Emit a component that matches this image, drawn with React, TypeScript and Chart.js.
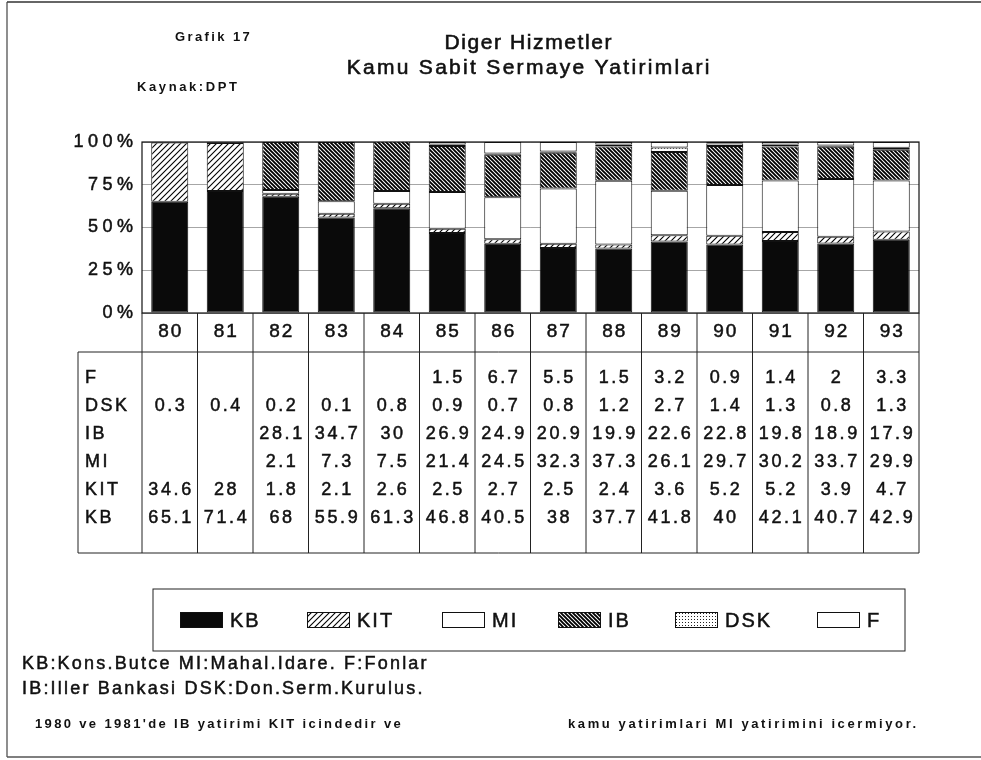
import React, { useEffect, useRef } from 'react';
import { Chart, registerables } from 'chart.js';

Chart.register(...registerables);

// ---- data ----
const YEARS = ['80', '81', '82', '83', '84', '85', '86', '87', '88', '89', '90', '91', '92', '93'];
const KB = [65.1, 71.4, 68, 55.9, 61.3, 46.8, 40.5, 38, 37.7, 41.8, 40, 42.1, 40.7, 42.9];
const KIT = [34.6, 28, 1.8, 2.1, 2.6, 2.5, 2.7, 2.5, 2.4, 3.6, 5.2, 5.2, 3.9, 4.7];
const MI = [null, null, 2.1, 7.3, 7.5, 21.4, 24.5, 32.3, 37.3, 26.1, 29.7, 30.2, 33.7, 29.9];
const IB = [null, null, 28.1, 34.7, 30, 26.9, 24.9, 20.9, 19.9, 22.6, 22.8, 19.8, 18.9, 17.9];
const DSK = [0.3, 0.4, 0.2, 0.1, 0.8, 0.9, 0.7, 0.8, 1.2, 2.7, 1.4, 1.3, 0.8, 1.3];
const F = [null, null, null, null, null, 1.5, 6.7, 5.5, 1.5, 3.2, 0.9, 1.4, 2, 3.3];
const Y_TICKS = [0, 25, 50, 75, 100];

const SERIES_NAMES = ['KB', 'KIT', 'MI', 'IB', 'DSK', 'F'];
const SERIES_DATA: (number | null)[][] = [KB, KIT, MI, IB, DSK, F];
// table rows top -> bottom
const TABLE_ROWS = ['F', 'DSK', 'IB', 'MI', 'KIT', 'KB'];

const TITLE_1 = 'Diger Hizmetler';
const TITLE_2 = 'Kamu Sabit Sermaye Yatirimlari';
const GRAFIK = 'Grafik 17';
const KAYNAK = 'Kaynak:DPT';
const NOTE_1 = 'KB:Kons.Butce MI:Mahal.Idare. F:Fonlar';
const NOTE_2 = 'IB:Iller Bankasi DSK:Don.Serm.Kurulus.';
const NOTE_3A = "1980 ve 1981'de IB yatirimi KIT icindedir ve";
const NOTE_3B = 'kamu yatirimlari MI yatirimini icermiyor.';

const FONT = "'Liberation Sans', Arial, Helvetica, sans-serif";
const INK = '#111';

// ---- fill patterns ----
function makePattern(kind: string): CanvasPattern | string {
  const c = document.createElement('canvas');
  const ctx = c.getContext('2d')!;
  if (kind === 'black') return '#0a0a0a';
  if (kind === 'white') return '#ffffff';
  if (kind === 'slash') {
    const s = 6;
    c.width = s; c.height = s;
    ctx.fillStyle = '#fff'; ctx.fillRect(0, 0, s, s);
    ctx.strokeStyle = '#000'; ctx.lineWidth = 1.1;
    ctx.beginPath();
    ctx.moveTo(-1, s + 1); ctx.lineTo(s + 1, -1);
    ctx.moveTo(-1, 1); ctx.lineTo(1, -1);
    ctx.moveTo(s - 1, s + 1); ctx.lineTo(s + 1, s - 1);
    ctx.stroke();
  } else if (kind === 'back') {
    const s = 4;
    c.width = s; c.height = s;
    ctx.fillStyle = '#fff'; ctx.fillRect(0, 0, s, s);
    ctx.strokeStyle = '#000'; ctx.lineWidth = 1.9;
    ctx.beginPath();
    ctx.moveTo(-1, -1); ctx.lineTo(s + 1, s + 1);
    ctx.moveTo(s - 1, -1); ctx.lineTo(s + 1, 1);
    ctx.moveTo(-1, s - 1); ctx.lineTo(1, s + 1);
    ctx.stroke();
  } else if (kind === 'dots') {
    const s = 3;
    c.width = s; c.height = s;
    ctx.fillStyle = '#fff'; ctx.fillRect(0, 0, s, s);
    ctx.fillStyle = '#222';
    ctx.fillRect(1, 1, 1, 1);
  }
  return ctx.createPattern(c, 'repeat')!;
}

function drawText(
  ctx: CanvasRenderingContext2D,
  s: string,
  x: number,
  y: number,
  size: number,
  align: CanvasTextAlign = 'left',
  spacing = 0,
  bold = false,
  heavy = 0.5
) {
  ctx.save();
  ctx.font = `${bold ? 'bold ' : ''}${size}px ${FONT}`;
  (ctx as any).letterSpacing = `${spacing}px`;
  ctx.textAlign = align;
  ctx.textBaseline = 'middle';
  ctx.fillStyle = INK;
  ctx.strokeStyle = INK;
  ctx.lineWidth = heavy;
  let xx = x;
  if (align === 'center') xx = x + spacing / 2;
  if (align === 'right') xx = x + spacing;
  ctx.fillText(s, xx, y);
  if (heavy > 0) ctx.strokeText(s, xx, y);
  ctx.restore();
}

function line(ctx: CanvasRenderingContext2D, x1: number, y1: number, x2: number, y2: number, w = 1, color = '#111') {
  ctx.save();
  ctx.strokeStyle = color;
  ctx.lineWidth = w;
  ctx.beginPath();
  ctx.moveTo(x1, y1);
  ctx.lineTo(x2, y2);
  ctx.stroke();
  ctx.restore();
}

export default function App() {
  const ref = useRef<HTMLCanvasElement | null>(null);

  useEffect(() => {
    const canvas = ref.current;
    if (!canvas) return;

    const fills = {
      KB: makePattern('black'),
      KIT: makePattern('slash'),
      MI: makePattern('white'),
      IB: makePattern('back'),
      DSK: makePattern('dots'),
      F: makePattern('white'),
    } as Record<string, CanvasPattern | string>;

    const LEGEND_X = [180, 307, 442, 558, 675, 817];

    const overlay = {
      id: 'overlay',
      beforeDraw(chart: any) {
        const ctx = chart.ctx as CanvasRenderingContext2D;
        ctx.save();
        ctx.fillStyle = '#fff';
        ctx.fillRect(0, 0, chart.width, chart.height);
        ctx.restore();
      },
      afterDraw(chart: any) {
        const ctx = chart.ctx as CanvasRenderingContext2D;
        const a = chart.chartArea;
        const xs = chart.scales.x;
        const ys = chart.scales.y;
        const n = YEARS.length;
        const colW = (a.right - a.left) / n;

        // page frame
        line(ctx, 7, 2, chart.width, 2, 1.5, '#333');
        line(ctx, 7, 2, 7, 757, 1.2, '#444');
        line(ctx, 7, 757, chart.width, 757, 1.5, '#555');

        // headings
        drawText(ctx, GRAFIK, 175, 37, 13, 'left', 2.4, true, 0);
        drawText(ctx, KAYNAK, 137, 87, 13, 'left', 2.6, true, 0);
        drawText(ctx, TITLE_1, 528, 43, 21, 'center', 1.6, false, 0.6);
        drawText(ctx, TITLE_2, 528, 68, 21, 'center', 2.3, false, 0.6);

        // plot frame
        ctx.save();
        ctx.strokeStyle = INK;
        ctx.lineWidth = 1.2;
        ctx.strokeRect(a.left, a.top, a.right - a.left, a.bottom - a.top);
        ctx.restore();

        // y tick labels
        Y_TICKS.forEach((v) => {
          drawText(ctx, `${v}%`, a.left - 9, ys.getPixelForValue(v), 18, 'right', 4.5);
        });

        // category header row + table
        const headY = a.bottom + 19;
        const tableTop = a.bottom + 39;
        const tableBottom = a.bottom + 240;
        const tableLeft = 78;
        for (let i = 0; i <= n; i++) {
          const bx = i < n ? xs.getPixelForValue(i) - colW / 2 : xs.getPixelForValue(n - 1) + colW / 2;
          line(ctx, bx, a.bottom, bx, tableBottom, 1, '#222');
        }
        line(ctx, tableLeft, tableTop, a.right, tableTop, 1, '#222');
        line(ctx, tableLeft, tableBottom, a.right, tableBottom, 1, '#222');
        line(ctx, tableLeft, tableTop, tableLeft, tableBottom, 1, '#222');

        YEARS.forEach((lab, i) => {
          drawText(ctx, lab, xs.getPixelForValue(i), headY, 19, 'center', 2);
        });

        TABLE_ROWS.forEach((name, r) => {
          const y = tableTop + 26 + r * 28;
          drawText(ctx, name, 85, y, 18, 'left', 2.5);
          const data = SERIES_DATA[SERIES_NAMES.indexOf(name)];
          data.forEach((v, i) => {
            if (v === null || v === undefined) return;
            drawText(ctx, String(v), xs.getPixelForValue(i), y, 18, 'center', 2.6);
          });
        });

        // legend
        ctx.save();
        ctx.strokeStyle = '#222';
        ctx.lineWidth = 1;
        ctx.strokeRect(153, 589, 752, 62);
        ctx.restore();
        SERIES_NAMES.forEach((name, i) => {
          const lx = LEGEND_X[i];
          ctx.save();
          ctx.fillStyle = fills[name] as any;
          ctx.fillRect(lx, 612, 43, 16);
          ctx.strokeStyle = '#111';
          ctx.lineWidth = 1;
          ctx.strokeRect(lx + 0.5, 612.5, 42, 15);
          ctx.restore();
          drawText(ctx, name, lx + 50, 621, 20, 'left', 2);
        });

        // notes
        drawText(ctx, NOTE_1, 22, 664, 18, 'left', 2.2);
        drawText(ctx, NOTE_2, 22, 689, 18, 'left', 2.2);
        drawText(ctx, NOTE_3A, 35, 724, 13, 'left', 2.35, true, 0);
        drawText(ctx, NOTE_3B, 568, 724, 13, 'left', 2.6, true, 0);
      },
    };

    const chart = new Chart(canvas, {
      type: 'bar',
      data: {
        labels: YEARS,
        datasets: SERIES_NAMES.map((name, i) => ({
          label: name,
          data: SERIES_DATA[i],
          backgroundColor: fills[name] as any,
          borderColor: '#111',
          borderWidth: 1,
          borderSkipped: false,
          categoryPercentage: 1,
          barPercentage: 0.667,
        })),
      },
      options: {
        responsive: false,
        animation: false,
        devicePixelRatio: 1,
        layout: { padding: { left: 142, top: 142, right: 62, bottom: 447 } },
        plugins: {
          legend: { display: false },
          title: { display: false },
          tooltip: { enabled: false },
        },
        scales: {
          x: {
            display: false,
            stacked: true,
          },
          y: {
            stacked: true,
            min: 0,
            max: 100,
            afterBuildTicks: (s: any) => {
              s.ticks = Y_TICKS.map((v) => ({ value: v }));
            },
            afterFit: (s: any) => {
              s.width = 0;
            },
            ticks: { display: false },
            border: { display: false },
            grid: {
              drawTicks: false,
              color: 'rgba(0,0,0,0.35)',
              lineWidth: 1,
              borderDash: [1, 5],
            } as any,
          },
        },
      },
      plugins: [overlay],
    });

    return () => chart.destroy();
  }, []);

  return (
    <div style={{ position: 'absolute', left: 0, top: 0, width: 981, height: 760, background: '#fff' }}>
      <canvas ref={ref} width={981} height={760} style={{ width: 981, height: 760, display: 'block' }} />
    </div>
  );
}
